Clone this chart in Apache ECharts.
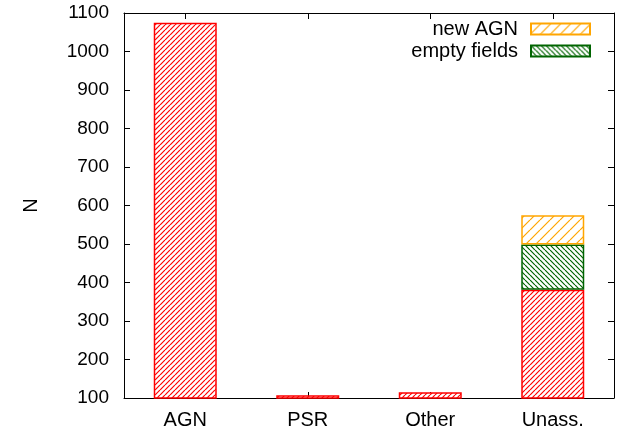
<!DOCTYPE html>
<html><head><meta charset="utf-8">
<script src="https://cdn.jsdelivr.net/npm/echarts@6/dist/echarts.min.js"></script>
<style>html,body{margin:0;padding:0;background:#fff}#c{width:629px;height:434px}</style>
</head><body><div id="c"></div>
<script>
var categories = ['AGN', 'PSR', 'Other', 'Unass.'];
var identified = [1075, 107, 115, 381];
var emptyFields = [null, null, null, 118];
var newAGN = [null, null, null, 76];
var yTicks = [100, 1100, 100]; // min, max, interval

function hatch(color, size, dir, lw) {
  var c = document.createElement('canvas');
  c.width = size; c.height = size;
  var g = c.getContext('2d');
  g.fillStyle = '#fff'; g.fillRect(0, 0, size, size);
  g.strokeStyle = color; g.lineWidth = lw;
  g.beginPath();
  for (var k = -1; k <= 1; k++) {
    if (dir > 0) { g.moveTo(k * size, size); g.lineTo(k * size + size, 0); }
    else { g.moveTo(k * size, 0); g.lineTo(k * size + size, size); }
  }
  g.stroke();
  return { image: c, repeat: 'repeat' };
}

var FONT = 'Liberation Sans';
var chart = echarts.init(document.getElementById('c'), null, { renderer: 'canvas' });
var axLine = { show: true, lineStyle: { color: '#000', width: 1 } };
var tick = { show: true, inside: true, length: 6, lineStyle: { color: '#000' } };
chart.setOption({
  animation: false,
  textStyle: { fontFamily: FONT },
  grid: { left: 124, right: 15, top: 13, bottom: 36 },
  legend: {
    data: ['new AGN', 'empty fields'],
    orient: 'vertical', right: 38, top: 19, align: 'right', padding: 0,
    itemWidth: 59, itemHeight: 11, itemGap: 2,
    textStyle: { fontFamily: FONT, fontSize: 20, color: '#000', padding: [0, 8, 0, 0] },
    icon: 'rect'
  },
  xAxis: [
    { type: 'category', data: categories, position: 'bottom',
      axisLine: axLine, axisTick: Object.assign({ alignWithLabel: true }, tick),
      axisLabel: { fontFamily: FONT, fontSize: 20, color: '#000', margin: 12 } },
    { type: 'category', data: categories, position: 'top',
      axisLine: axLine, axisTick: Object.assign({ alignWithLabel: true }, tick),
      axisLabel: { show: false } }
  ],
  yAxis: [
    { type: 'value', min: yTicks[0], max: yTicks[1], interval: yTicks[2], position: 'left',
      name: 'N', nameLocation: 'middle', nameGap: 83, nameRotate: 90,
      nameTextStyle: { fontFamily: FONT, fontSize: 20, color: '#000' },
      axisLine: axLine, splitLine: { show: false }, axisTick: tick,
      axisLabel: { fontFamily: FONT, fontSize: 19, color: '#000', margin: 15,
        formatter: function (v) { return String(v); } } },
    { type: 'value', min: yTicks[0], max: yTicks[1], interval: yTicks[2], position: 'right',
      axisLine: axLine, splitLine: { show: false }, axisTick: tick,
      axisLabel: { show: false } }
  ],
  series: [
    { name: 'identified', type: 'bar', stack: 'u', data: identified, barWidth: 63,
      itemStyle: { color: hatch('#ff0000', 5, 1, 1.2), borderColor: '#ff0000', borderWidth: 1.5 } },
    { name: 'empty fields', type: 'bar', stack: 'u', data: emptyFields, barWidth: 63,
      itemStyle: { color: hatch('#006400', 5, -1, 1.2), borderColor: '#006400', borderWidth: 1.5 } },
    { name: 'new AGN', type: 'bar', stack: 'u', data: newAGN, barWidth: 63,
      itemStyle: { color: hatch('#ffa500', 10, 1, 1.2), borderColor: '#ffa500', borderWidth: 1.5 } }
  ]
});
</script></body></html>
